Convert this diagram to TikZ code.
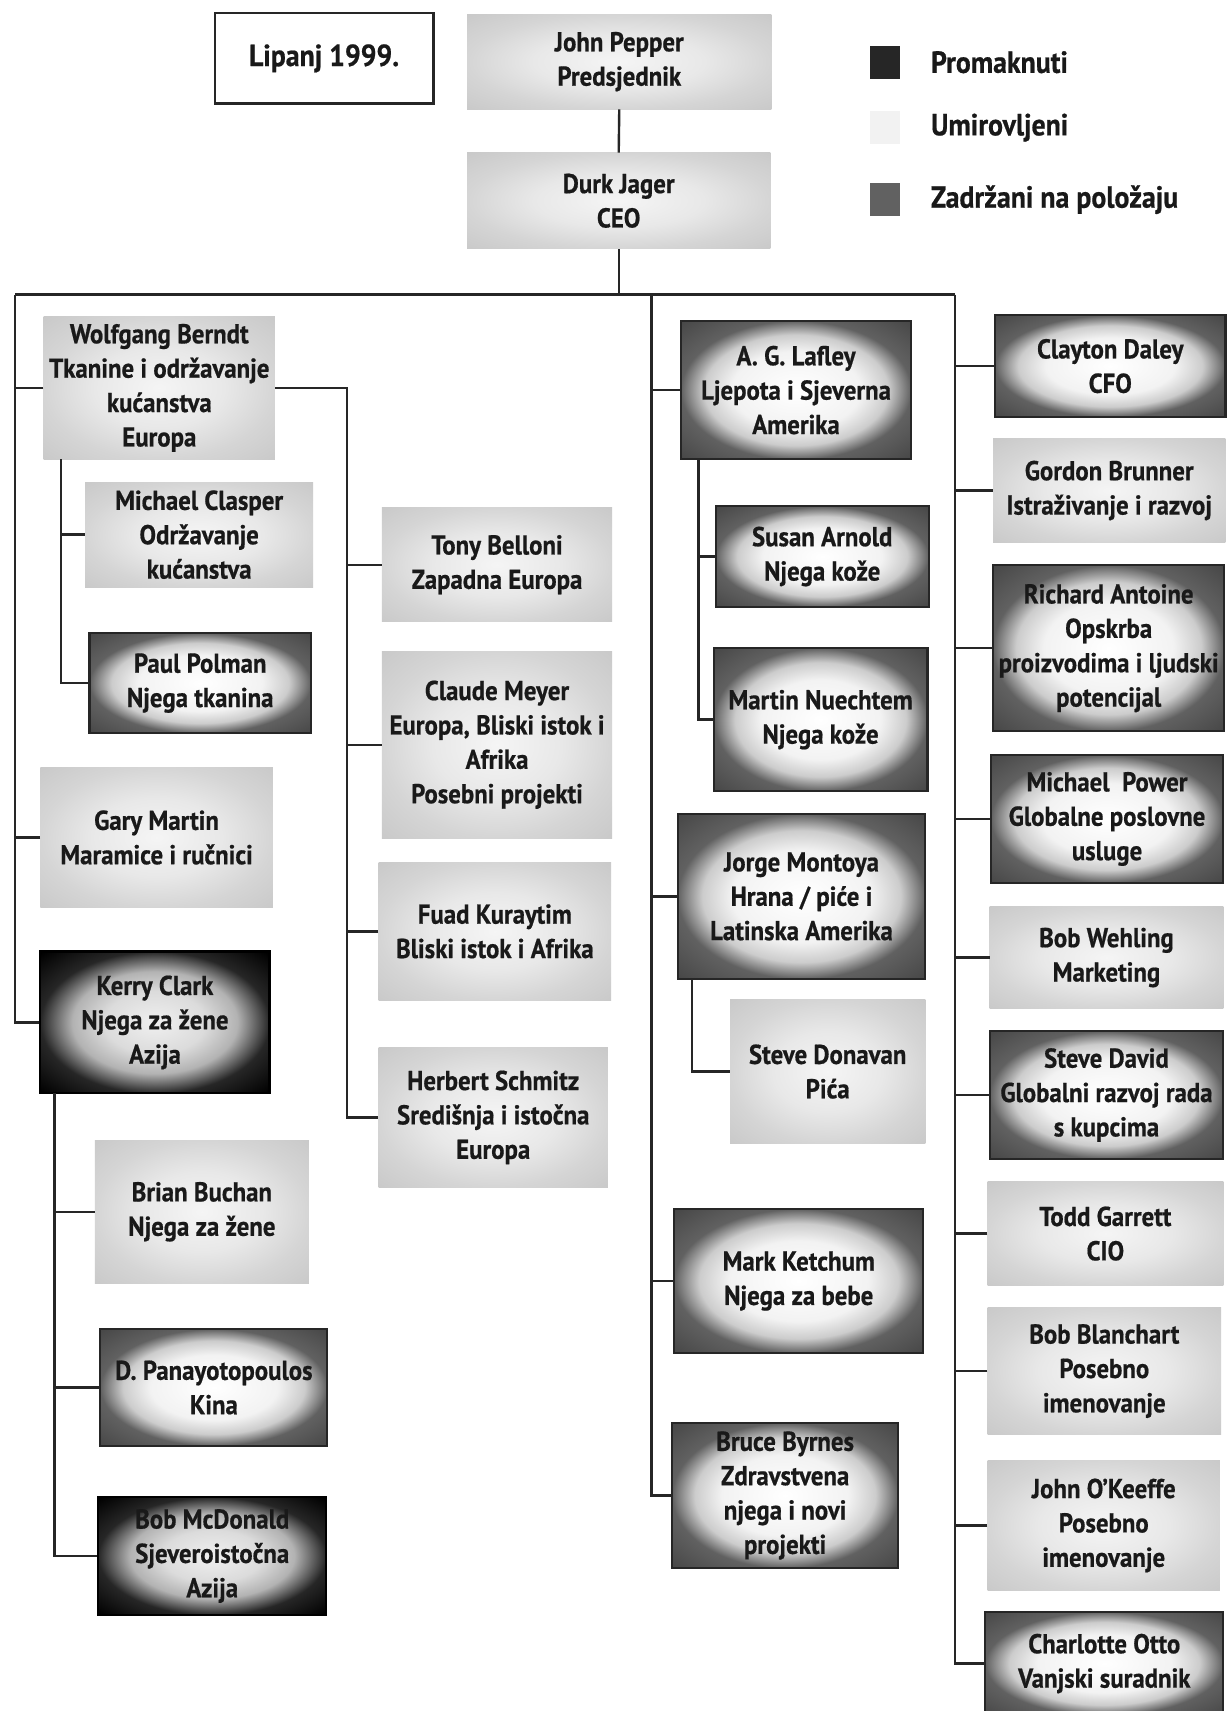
\documentclass[tikz,border=0pt]{standalone}
\usepackage{fontspec}
\newfontfamily\orgfam{PT Sans}[FakeStretch=0.91, BoldFeatures={FakeBold=0.6}]
\newcommand{\orgfont}{\orgfam\bfseries\fontsize{25}{31.5}\selectfont}
\newcommand{\keyfont}{\orgfam\bfseries\fontsize{28}{32}\selectfont}
\usetikzlibrary{positioning,shapes}

\pgfdeclareradialshading{fadedbox}{\pgfpoint{0bp}{0bp}}{color(0bp)=(white); color(14bp)=(white!95!black); color(20bp)=(gray!40); color(25bp)=(black!62); color(35bp)=(black!72); color(50bp)=(black!72)}
\pgfdeclareradialshading{darkbox}{\pgfpoint{0bp}{0bp}}{color(0bp)=(white!94!black); color(11bp)=(white!86!black); color(18bp)=(gray!60); color(25bp)=(black!85); color(35bp)=(black); color(50bp)=(black)}
\pgfdeclareradialshading{palebox}{\pgfpoint{0bp}{0bp}}{color(0bp)=(white!96!black); color(14bp)=(white!91!black); color(25bp)=(gray!33); color(35bp)=(gray!42); color(50bp)=(gray!42)}

\tikzset{
  person/.style={rectangle, inner sep=0pt, align=center, font=\orgfont, text=black!90},
  retired/.style={person, shading=palebox},
  retained/.style={person, draw=black!85, line width=2pt, shading=fadedbox},
  promoted/.style={person, draw=black, line width=2pt, shading=darkbox},
  keytext/.style={person, anchor=west, font=\keyfont},
  link/.style={draw=black!85, line width=2.2pt},
  buslink/.style={link, line width=2.8pt}
}

\begin{document}
\begin{tikzpicture}[x=1pt, y=-1pt]
  \path[use as bounding box, fill=white] (0,0) rectangle (1124,1568);

  % top of the chart and the legend
  \node[person, draw=black!85, line width=2.5pt, fill=white, font=\keyfont, minimum width=200, minimum height=83] (lipanj) at (297,53.5) {Lipanj 1999.};
  \node[retired, minimum width=279, minimum height=87] (pepper) at (567.5,56.5) {John Pepper\\Predsjednik};
  \node[retired, minimum width=278, minimum height=88] (jager) at (567,184) {Durk Jager\\CEO};

  \node[person, fill=black!85, minimum width=28, minimum height=30] (keyprom) at (811,57) {};
  \node[person, fill=gray!10, minimum width=28, minimum height=30] (keyret) at (811,117) {};
  \node[person, fill=black!62, minimum width=28, minimum height=30] (keystay) at (811,183) {};
  \node[keytext] (keypromtxt) at (853,57) {Promaknuti};
  \node[keytext] (keyrettxt) at (853,117) {Umirovljeni};
  \node[keytext] (keystaytxt) at (853,183) {Zadržani na položaju};

  % left column
  \node[retired, minimum width=212, minimum height=131] (wolf) at (146,355.5) {Wolfgang Berndt\\Tkanine i održavanje\\kućanstva\\Europa};
  \node[retired, minimum width=209, minimum height=96] (clasper) at (182.5,490) {Michael Clasper\\Održavanje\\kućanstva};
  \node[retained, minimum width=203, minimum height=92] (polman) at (183.5,626) {Paul Polman\\Njega tkanina};
  \node[retired, minimum width=213, minimum height=129] (gmartin) at (143.5,767.5) {Gary Martin\\Maramice i ručnici};
  \node[promoted, minimum width=210, minimum height=130] (kclark) at (142,937) {Kerry Clark\\Njega za žene\\Azija};
  \node[retired, minimum width=196, minimum height=131] (buchan) at (185,1110.5) {Brian Buchan\\Njega za žene};
  \node[retained, minimum width=208, minimum height=107] (panay) at (196,1271.5) {D. Panayotopoulos\\Kina};
  \node[promoted, minimum width=209, minimum height=108] (mcdonald) at (194.5,1426) {Bob McDonald\\Sjeveroistočna\\Azija};

  % second column
  \node[retired, minimum width=211, minimum height=105] (belloni) at (455.5,517.5) {Tony Belloni\\Zapadna Europa};
  \node[retired, minimum width=211, minimum height=171] (meyer) at (455.5,682.5) {Claude Meyer\\Europa, Bliski istok i\\Afrika\\Posebni projekti};
  \node[retired, minimum width=213, minimum height=127] (kuraytim) at (453.5,853.5) {Fuad Kuraytim\\Bliski istok i Afrika};
  \node[retired, minimum width=210, minimum height=128] (schmitz) at (452,1024) {Herbert Schmitz\\Središnja i istočna\\Europa};

  % middle column
  \node[retained, minimum width=211, minimum height=127] (lafley) at (729.5,357.5) {A. G. Lafley\\Ljepota i Sjeverna\\Amerika};
  \node[retained, minimum width=195, minimum height=92] (arnold) at (753.5,510) {Susan Arnold\\Njega kože};
  \node[retained, minimum width=196, minimum height=131] (nuechtem) at (752,659.5) {Martin Nuechtem\\Njega kože};
  \node[retained, minimum width=227, minimum height=151] (montoya) at (734.5,821.5) {Jorge Montoya\\Hrana / piće i\\Latinska Amerika};
  \node[retired, minimum width=179, minimum height=132] (donavan) at (758.5,982) {Steve Donavan\\Pića};
  \node[retained, minimum width=228, minimum height=132] (ketchum) at (732,1174) {Mark Ketchum\\Njega za bebe};
  \node[retained, minimum width=207, minimum height=133] (byrnes) at (719.5,1370.5) {Bruce Byrnes\\Zdravstvena\\njega i novi\\projekti};

  % right column
  \node[retained, minimum width=211, minimum height=93] (daley) at (1017.5,335.5) {Clayton Daley\\CFO};
  \node[retired, minimum width=213, minimum height=95] (brunner) at (1016.5,449.5) {Gordon Brunner\\Istraživanje i razvoj};
  \node[retained, minimum width=212, minimum height=152] (antoine) at (1016,594) {Richard Antoine\\Opskrba\\proizvodima i ljudski\\potencijal};
  \node[retained, minimum width=213, minimum height=117] (power) at (1014.5,750.5) {Michael~ Power\\Globalne poslovne\\usluge};
  \node[retired, minimum width=214, minimum height=93] (wehling) at (1014,877.5) {Bob Wehling\\Marketing};
  \node[retained, minimum width=214, minimum height=117] (david) at (1014,1003.5) {Steve David\\Globalni razvoj rada\\s kupcima};
  \node[retired, minimum width=216, minimum height=95] (garrett) at (1013,1130.5) {Todd Garrett\\CIO};
  \node[retired, minimum width=214, minimum height=117] (blanchart) at (1012,1256.5) {Bob Blanchart\\Posebno\\imenovanje};
  \node[retired, minimum width=213, minimum height=120] (okeeffe) at (1011.5,1398) {John O’Keeffe\\Posebno\\imenovanje};
  \node[retained, minimum width=218, minimum height=95] (otto) at (1012,1524.5) {Charlotte Otto\\Vanjski suradnik};

  % trunks
  \coordinate (busL) at (14,270);
  \coordinate (busC) at (597,270);
  \coordinate (busR) at (875,270);
  \coordinate (wolfR) at (318,355.5);
  \coordinate (wolfL) at (56,421);
  \coordinate (clarkS) at (50,1002);
  \coordinate (lafleyS) at (640,421);
  \coordinate (montoyaS) at (634,897);

  \draw[link] (pepper.south) -- (jager.north);
  \draw[link] (jager.south) -- (jager.south |- busL);
  \draw[buslink] (busL) -- (busR);

  \draw[link] (busL) |- (kclark.west)
    (wolf.west) -- (wolf.west -| busL)
    (gmartin.west) -- (gmartin.west -| busL);
  \draw[link] (wolfL) |- (polman.west)
    (clasper.west) -- (clasper.west -| wolfL);
  \draw[link] (wolf.east) -- (wolfR) |- (schmitz.west)
    (belloni.west) -- (belloni.west -| wolfR)
    (meyer.west) -- (meyer.west -| wolfR)
    (kuraytim.west) -- (kuraytim.west -| wolfR);
  \draw[link] (clarkS) |- (mcdonald.west)
    (buchan.west) -- (buchan.west -| clarkS)
    (panay.west) -- (panay.west -| clarkS);

  \draw[link] (busC) |- (byrnes.west)
    (lafley.west) -- (lafley.west -| busC)
    (montoya.west) -- (montoya.west -| busC)
    (ketchum.west) -- (ketchum.west -| busC);
  \draw[link] (lafleyS) |- (nuechtem.west)
    (arnold.west) -- (arnold.west -| lafleyS);
  \draw[link] (montoyaS) |- (donavan.west);

  \draw[link] (busR) |- (otto.west)
    (daley.west) -- (daley.west -| busR)
    (brunner.west) -- (brunner.west -| busR)
    (antoine.west) -- (antoine.west -| busR)
    (power.west) -- (power.west -| busR)
    (wehling.west) -- (wehling.west -| busR)
    (david.west) -- (david.west -| busR)
    (garrett.west) -- (garrett.west -| busR)
    (blanchart.west) -- (blanchart.west -| busR)
    (okeeffe.west) -- (okeeffe.west -| busR);
\end{tikzpicture}
\end{document}
